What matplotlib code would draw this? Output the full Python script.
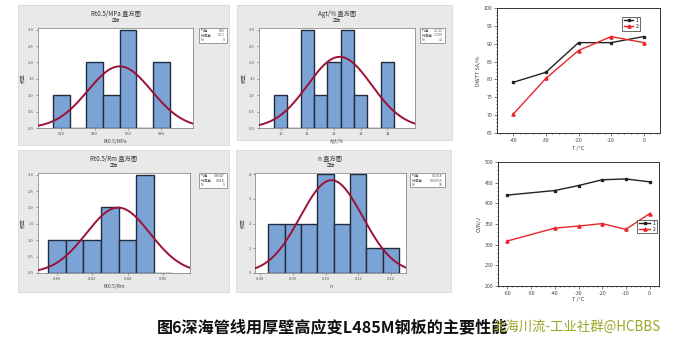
import numpy as np
import matplotlib
matplotlib.use("Agg")
import matplotlib.pyplot as plt
from matplotlib.patches import Rectangle

plt.rcParams["font.family"] = ["Noto Sans CJK SC", "DejaVu Sans"]
plt.rcParams["axes.unicode_minus"] = False

W, H = 685, 345

# histogram data (bin centres / counts / normal fit)
rt_bins = [520, 530, 540, 550, 560, 570, 580]
rt_counts = [1, 0, 2, 1, 3, 0, 2]
rt_ticks = [520, 540, 560, 580]
rt_mean, rt_std, rt_n = 555.0, 19.1, 9

agt_bins = [10.0, 10.5, 11.0, 11.5, 12.0, 12.5, 13.0, 13.5, 14.0]
agt_counts = [1, 0, 3, 1, 2, 3, 1, 0, 2]
agt_ticks = [10, 11, 12, 13, 14]
agt_mean, agt_std, agt_n = 12.21, 1.195, 13

yr_bins = [0.80, 0.81, 0.82, 0.83, 0.84, 0.85, 0.86]
yr_counts = [1, 1, 1, 2, 1, 3, 0]
yr_ticks = [0.80, 0.82, 0.84, 0.86]
yr_mean, yr_std, yr_n = 0.8347, 0.018, 9

n_bins = [0.085, 0.090, 0.095, 0.100, 0.105, 0.110, 0.115, 0.120]
n_counts = [2, 2, 2, 4, 2, 4, 1, 1]
n_ticks = [0.08, 0.09, 0.10, 0.11, 0.12]
n_mean, n_std, n_n = 0.1018, 0.00955, 18

# DWTT
dwtt_t = [-40, -30, -20, -10, 0]
dwtt_1 = [79.2, 82.0, 90.3, 90.3, 92.0]
dwtt_2 = [70.3, 80.3, 88.1, 92.0, 90.3]

# CVN
cvn_t = [-60, -40, -30, -20, -10, 0]
cvn_1 = [420, 431, 443, 457, 459, 452]
cvn_2 = [309, 340, 345, 351, 337, 375]


def rect(x0, y0, x1, y1):
    return [x0 / W, 1 - y1 / H, (x1 - x0) / W, (y1 - y0) / H]


fig = plt.figure(figsize=(W / 100, H / 100), dpi=100)
fig.patch.set_facecolor("white")


def histogram(panel, plot, legend, bins, counts, ticks, tick_fmt, xlim, ylim, yticks,
              ytick_fmt, mean, std, n, title, xlabel):
    px0, py0, px1, py1 = panel
    fig.add_artist(Rectangle((px0 / W, 1 - py1 / H), (px1 - px0) / W, (py1 - py0) / H,
                             transform=fig.transFigure, facecolor="#e9e9e9",
                             edgecolor="#d8d8d8", linewidth=0.6, zorder=0))
    ax = fig.add_axes(rect(*plot))
    bw = bins[1] - bins[0]
    ax.bar(bins, counts, width=bw, color="#7ba3d6", edgecolor="#222c40",
           linewidth=1.0, zorder=2)
    xs = np.linspace(xlim[0], xlim[1], 200)
    ys = n * bw / (std * np.sqrt(2 * np.pi)) * np.exp(-0.5 * ((xs - mean) / std) ** 2)
    ax.plot(xs, ys, color="#9c1236", linewidth=1.4, zorder=3)
    ax.set_xlim(*xlim)
    ax.set_ylim(*ylim)
    ax.set_xticks(ticks)
    ax.set_xticklabels([tick_fmt.format(t) for t in ticks])
    ax.set_yticks(yticks)
    ax.set_yticklabels([ytick_fmt.format(t) for t in yticks])
    ax.tick_params(labelsize=3, length=1.5, width=0.4, pad=1.5, colors="#555555")
    for s in ax.spines.values():
        s.set_linewidth(0.5)
        s.set_color("#777777")
    ax.set_xlabel(xlabel, fontsize=3.5, labelpad=2, color="#444444")
    ax.set_ylabel("频率", fontsize=3.5, labelpad=2, color="#444444")
    cx = (plot[0] + plot[2]) / 2
    fig.text(cx / W, 1 - (plot[1] - 14) / H, title + " 直方图", fontsize=4.5,
             ha="center", va="center", color="#333333")
    fig.text(cx / W, 1 - (plot[1] - 7.5) / H, "正态", fontsize=3,
             ha="center", va="center", color="#333333")
    lx0, ly0, lx1, ly1 = legend
    fig.add_artist(Rectangle((lx0 / W, 1 - ly1 / H), (lx1 - lx0) / W, (ly1 - ly0) / H,
                             transform=fig.transFigure, facecolor="white",
                             edgecolor="#777777", linewidth=0.5, zorder=1))
    rows = [("均值", "{:.4g}".format(mean)), ("标准差", "{:.4g}".format(std)),
            ("N", str(n))]
    for i, (k, v) in enumerate(rows):
        yy = 1 - (ly0 + 3 + i * 4.5) / H
        fig.text((lx0 + 2) / W, yy, k, fontsize=2.6, va="center", color="#555555")
        fig.text((lx1 - 2) / W, yy, v, fontsize=2.6, va="center", ha="right",
                 color="#555555")
    return ax


half = [0, 0.5, 1.0, 1.5, 2.0, 2.5, 3.0]

histogram((18, 5, 229, 145), (38, 28, 193, 128), (199, 28, 227, 43),
          rt_bins, rt_counts, rt_ticks, "{:d}", (506, 599), (0, 3.05), half, "{:.1f}",
          rt_mean, rt_std, rt_n, "Rt0.5/MPa", "Rt0.5/MPa")
histogram((237, 5, 452, 140), (259, 28, 415, 128), (420, 28, 445, 43),
          agt_bins, agt_counts, agt_ticks, "{:d}", (9.19, 15.03), (0, 3.05), half, "{:.1f}",
          agt_mean, agt_std, agt_n, "Agt/%", "Agt/%")
histogram((18, 150, 229, 292), (38, 173, 190, 273), (199, 173, 227, 188),
          yr_bins, yr_counts, yr_ticks, "{:.2f}", (0.7894, 0.8753), (0, 3.05), half, "{:.1f}",
          yr_mean, yr_std, yr_n, "Rt0.5/Rm", "Rt0.5/Rm")
histogram((236, 150, 451, 292), (255, 173, 406, 273), (410, 173, 445, 187),
          n_bins, n_counts, n_ticks, "{:.2f}", (0.0784, 0.1246), (0, 4.05), [0, 1, 2, 3, 4],
          "{:d}", n_mean, n_std, n_n, "n", "n")


def line_axes(r, xlim, ylim, xt, yt):
    ax = fig.add_axes(rect(*r))
    ax.set_xlim(*xlim)
    ax.set_ylim(*ylim)
    ax.set_xticks(xt)
    ax.set_yticks(yt)
    ax.minorticks_on()
    ax.tick_params(which="major", labelsize=3.8, length=2, width=0.5, pad=1.5,
                   direction="out", colors="#444444")
    ax.tick_params(which="minor", length=1, width=0.4, direction="out")
    for s in ax.spines.values():
        s.set_linewidth(0.7)
        s.set_color("#333333")
    return ax


ax5 = line_axes((497, 8, 660, 133), (-45, 5), (65, 100), dwtt_t, range(65, 101, 5))
ax5.plot(dwtt_t, dwtt_1, color="#222222", marker="s", markersize=2, linewidth=1, label="1")
ax5.plot(dwtt_t, dwtt_2, color="#e8262b", marker="^", markersize=2.3, linewidth=1, label="2")
ax5.set_ylabel("DWTT SA/%", fontsize=4, labelpad=2, color="#444444")
ax5.set_xlabel("T /°C", fontsize=4, labelpad=2, color="#444444")
leg = ax5.legend(loc="upper right", bbox_to_anchor=(0.89, 0.95), fontsize=3.5,
                 frameon=True, fancybox=False, edgecolor="#222222", handlelength=2,
                 borderpad=0.3, labelspacing=0.2, handletextpad=0.4)
leg.get_frame().set_linewidth(0.6)

ax6 = line_axes((498, 162, 659, 286), (-64, 4), (200, 500), [-60, -50, -40, -30, -20, -10, 0],
                range(200, 501, 50))
ax6.plot(cvn_t, cvn_1, color="#222222", marker="s", markersize=2, linewidth=1, label="1")
ax6.plot(cvn_t, cvn_2, color="#e8262b", marker="^", markersize=2.3, linewidth=1, label="2")
ax6.set_ylabel("CVN/J", fontsize=4, labelpad=2, color="#444444")
ax6.set_xlabel("T /°C", fontsize=4, labelpad=1, color="#444444")
leg = ax6.legend(loc="center right", bbox_to_anchor=(1.0, 0.48), fontsize=3.5,
                 frameon=True, fancybox=False, edgecolor="#222222", handlelength=2.4,
                 borderpad=0.3, labelspacing=0.2, handletextpad=0.4)
leg.get_frame().set_linewidth(0.6)

fig.text(157 / W, 1 - 327 / H, "图6深海管线用厚壁高应变L485M钢板的主要性能",
         fontsize=11.6, fontweight="bold", va="center", ha="left", color="#111111")
fig.text(493 / W, 1 - 327 / H, "北海川流-工业社群@HCBBS",
         fontsize=9.6, va="center", ha="left", color="#9aa626")

fig.savefig("out.png", dpi=100)
